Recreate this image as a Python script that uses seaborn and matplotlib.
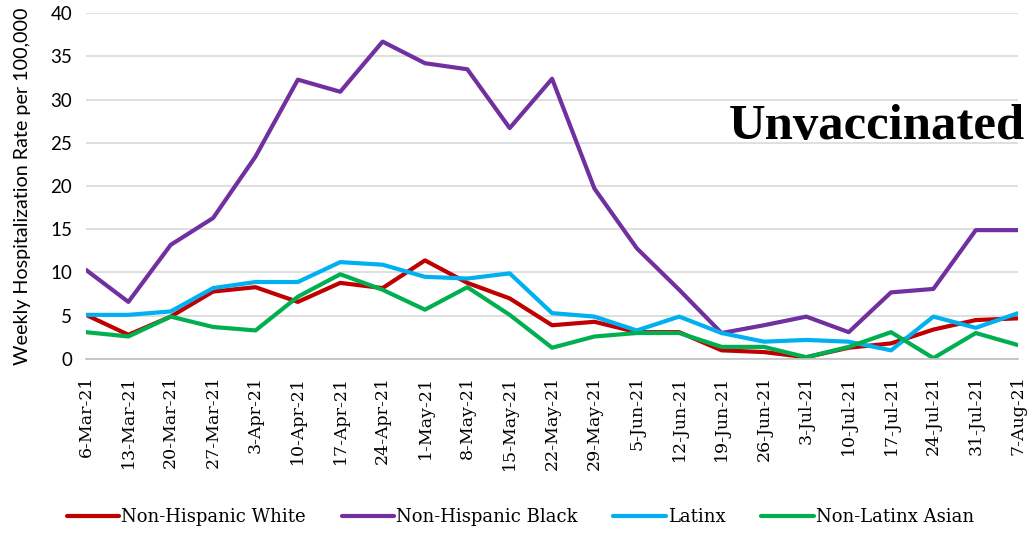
import numpy as np
import pandas as pd
import matplotlib
matplotlib.use("Agg")
import matplotlib.pyplot as plt
import seaborn as sns

# --- Data ---
weeks = ["6-Mar-21", "13-Mar-21", "20-Mar-21", "27-Mar-21", "3-Apr-21", "10-Apr-21",
         "17-Apr-21", "24-Apr-21", "1-May-21", "8-May-21", "15-May-21", "22-May-21",
         "29-May-21", "5-Jun-21", "12-Jun-21", "19-Jun-21", "26-Jun-21", "3-Jul-21",
         "10-Jul-21", "17-Jul-21", "24-Jul-21", "31-Jul-21", "7-Aug-21"]

white = [5.1, 2.8, 4.9, 7.8, 8.3, 6.6, 8.8, 8.2, 11.4, 8.8, 7.0, 3.9,
         4.3, 3.1, 3.1, 1.0, 0.8, 0.2, 1.3, 1.8, 3.4, 4.5, 4.7]
black = [10.3, 6.6, 13.2, 16.3, 23.4, 32.3, 30.9, 36.7, 34.2, 33.5, 26.7, 32.4,
         19.7, 12.8, 8.0, 3.0, 3.9, 4.9, 3.1, 7.7, 8.1, 14.9, 14.9]
latinx = [5.1, 5.1, 5.5, 8.2, 8.9, 8.9, 11.2, 10.9, 9.5, 9.3, 9.9, 5.3,
          4.9, 3.3, 4.9, 3.0, 2.0, 2.2, 2.0, 1.0, 4.9, 3.6, 5.3]
asian = [3.1, 2.6, 4.9, 3.7, 3.3, 7.2, 9.8, 8.0, 5.7, 8.3, 5.1, 1.3,
         2.6, 3.0, 3.0, 1.4, 1.4, 0.2, 1.4, 3.1, 0.1, 3.0, 1.6]

groups = ["Non-Hispanic White", "Non-Hispanic Black", "Latinx", "Non-Latinx Asian"]
colors = ["#C00000", "#7030A0", "#00B0F0", "#00B050"]

rows = []
for name, vals in zip(groups, [white, black, latinx, asian]):
    for i, v in enumerate(vals):
        rows.append({"week": i, "rate": v, "group": name})
df = pd.DataFrame(rows)

# --- Plot ---
sns.set_style("white")
plt.rcParams["text.color"] = "black"
plt.rcParams["xtick.color"] = "black"
plt.rcParams["ytick.color"] = "black"
plt.rcParams["axes.labelcolor"] = "black"

fig = plt.figure(figsize=(10.3, 5.33), dpi=100)
ax = fig.add_axes([0.0835, 0.3265, 0.905, 0.649])

sns.lineplot(data=df, x="week", y="rate", hue="group", hue_order=groups,
             palette=colors, linewidth=3, ax=ax, legend=False)

ax.set_xlim(0, len(weeks) - 1)
ax.set_ylim(0, 40)
ax.set_yticks(range(0, 41, 5))
ax.yaxis.grid(True, color="#D9D9D9", linewidth=1.2)
ax.set_axisbelow(True)
for s in ["top", "right", "left"]:
    ax.spines[s].set_visible(False)
ax.spines["bottom"].set_color("#BFBFBF")
ax.spines["bottom"].set_linewidth(1.2)

ax.set_xticks(range(len(weeks)))
ax.set_xticklabels(weeks, rotation=90, family="DejaVu Serif", fontsize=12.5)
ax.tick_params(axis="x", length=6, color="#BFBFBF", width=1.2, pad=6)
ax.tick_params(axis="y", length=0, pad=10, colors="black")
for lab in ax.get_yticklabels():
    lab.set_family("Lato")
    lab.set_fontsize(13.5)

ax.set_xlabel("")
ax.set_ylabel("Weekly Hospitalization Rate per 100,000", family="Lato", fontsize=14.2)
ax.yaxis.set_label_coords(-0.059, 0.5)

ax.text(22.15, 25.4, "Unvaccinated", ha="right", va="baseline", color="black",
        family="Liberation Serif", fontweight="bold", fontsize=36.5)

handles = [plt.Line2D([], [], color=c, linewidth=3) for c in colors]
fig.legend(handles, groups, loc="center", bbox_to_anchor=(0.505, 0.03), ncol=4,
           frameon=False, prop={"family": "DejaVu Serif", "size": 13},
           handlelength=2.9, handletextpad=0.1, columnspacing=2.0)

fig.savefig("out.png", dpi=100)
